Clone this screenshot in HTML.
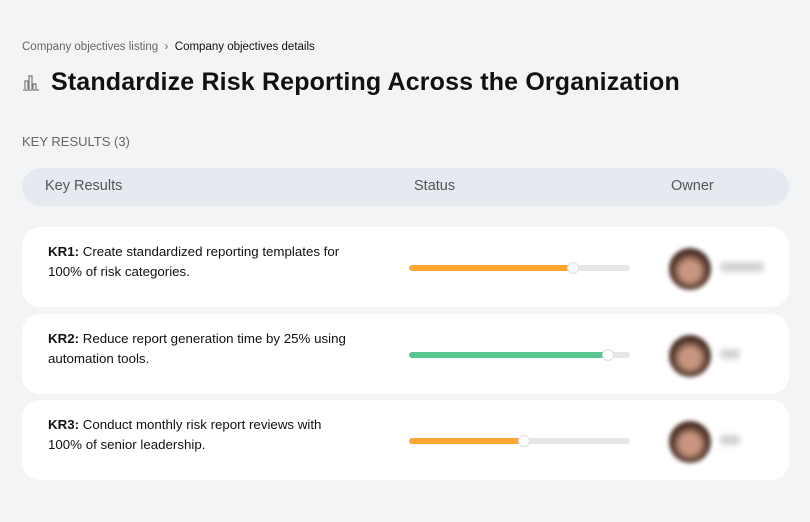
<!DOCTYPE html>
<html><head><meta charset="utf-8"><style>
*{margin:0;padding:0;box-sizing:border-box}
body{width:810px;height:522px;background:#f3f4f6;font-family:"Liberation Sans",sans-serif;position:relative;overflow:hidden;color:#111}
.abs{position:absolute}
.crumb{left:22px;top:41px;font-size:11.5px;color:#666}
.crumb b{font-weight:normal;color:#111}
.title{left:22px;top:68px;font-size:25px;font-weight:bold;letter-spacing:0.15px;white-space:nowrap}
.kr{left:22px;top:134px;font-size:13px;color:#666}
.head{left:22px;top:168px;width:767px;height:38px;background:#e5e9f0;border-radius:19px;font-size:14.5px;color:#555}
.head span{position:absolute;top:10px}
.card{left:22px;width:767px;height:80px;background:#fff;border-radius:18px}
.txt{position:absolute;left:26px;top:15px;font-size:13.3px;line-height:20px;color:#111;width:310px}
.track{position:absolute;left:387px;width:221px;height:6px;background:#e6e6e6;border-radius:3px;top:38px}
.fill{position:absolute;left:0;top:0;height:6px;border-radius:3px}
.knob{position:absolute;top:-3px;width:12px;height:12px;margin-left:-6px;border-radius:50%;background:#fff;border:1px solid #ddd}
.av{position:absolute;left:647px;top:21px;width:42px;height:42px;border-radius:50%;background:radial-gradient(circle at 50% 55%,#c89680 0 30%,#4a2e25 60%);filter:blur(2px)}
.nm{position:absolute;left:698px;top:35px;height:10px;background:#d2d2d2;border-radius:4px;filter:blur(3px)}
</style></head><body>
<div class="abs crumb"><span>Company objectives listing</span> &nbsp;›&nbsp; <b>Company objectives details</b></div>
<div class="abs title"><svg width="18" height="18" viewBox="0 0 18 18" style="vertical-align:-1px;margin-right:11px"><g fill="none" stroke="#777" stroke-width="1.2"><path d="M1 17H17"/><path d="M3 16V8h3v8"/><path d="M7 16V3h3v13"/><path d="M11 16v-5h3v5"/></g></svg>Standardize Risk Reporting Across the Organization</div>
<div class="abs kr">KEY RESULTS (3)</div>
<div class="abs head">
<span style="left:23px">Key Results</span>
<span style="left:392px">Status</span>
<span style="left:649px">Owner</span>
</div>
<div id="rows"></div>
<script>
const labels=["KR1:","KR2:","KR3:"];
const texts=["Create standardized reporting templates for 100% of risk categories.","Reduce report generation time by 25% using automation tools.","Conduct monthly risk report reviews with 100% of senior leadership."];
const progress=[74,90,52];
const colors=["#ffa630","#58c68f","#ffa630"];
const nameWidths=[44,20,20];
const tops=[227,314,400];
const rows=document.getElementById('rows');
labels.forEach((l,i)=>{
 const c=document.createElement('div');c.className='abs card';c.style.top=tops[i]+'px';
 
 
 c.innerHTML='<div class="txt"><b>'+l+'</b> '+texts[i]+'</div>';
 const t=document.createElement('div');t.className='track';
 
 
 const f=document.createElement('div');f.className='fill';f.style.width=progress[i]+'%';f.style.background=colors[i];
 
 
 const k=document.createElement('div');k.className='knob';k.style.left=progress[i]+'%';
 
 
 t.appendChild(f);t.appendChild(k);c.appendChild(t);
 const a=document.createElement('div');a.className='av';
 
 
 c.appendChild(a);
 const n=document.createElement('div');n.className='nm';n.style.width=nameWidths[i]+'px';
 
 
 c.appendChild(n);
 rows.appendChild(c);
});
</script>
</body></html>
